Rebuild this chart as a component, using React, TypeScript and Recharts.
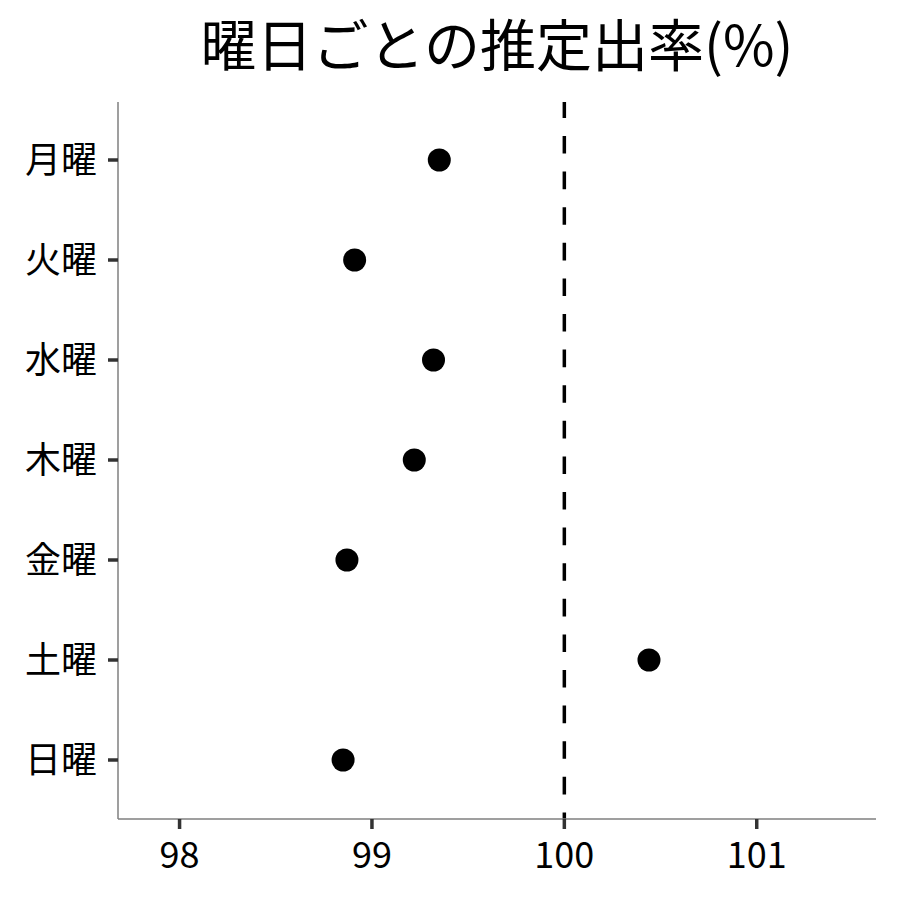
import React from "react";
import {
    ScatterChart,
    Scatter,
    XAxis,
    YAxis,
    ReferenceLine,
} from "recharts";

// 曜日ラベル (上から順)
const days = ["月曜", "火曜", "水曜", "木曜", "金曜", "土曜", "日曜"];
// 推定出率 (%)
const rates = [99.35, 98.91, 99.32, 99.22, 98.87, 100.44, 98.85];
const xTicks = [98, 99, 100, 101];
const yTicks = [0, 1, 2, 3, 4, 5, 6];

const FONT = '"Noto Sans CJK JP", "Noto Sans", sans-serif';

const Dot = (props: any) => {
    const { cx, cy } = props;
    return <circle cx={cx} cy={cy} r={11.5} fill="#000" />;
};

export default function App() {
    const data = days.map((d, i) => ({ idx: i, day: d, rate: rates[i] }));

    return (
        <div style={{ position: "absolute", left: 0, top: 0, width: 900, height: 900, background: "#fff", fontFamily: FONT }}>
            <svg width={900} height={100} style={{ position: "absolute", left: 0, top: 0 }}>
                <text x={497} y={65.5} textAnchor="middle" fontSize={56} fontFamily={FONT} fill="#000">
                    曜日ごとの推定出率(%)
                </text>
            </svg>
            <ScatterChart
                width={900}
                height={900}
                margin={{ top: 102, right: 24, bottom: 21, left: 18 }}
            >
                <XAxis
                    type="number"
                    dataKey="rate"
                    domain={[97.68, 101.62]}
                    ticks={xTicks}
                    allowDataOverflow
                    height={60}
                    tickSize={10}
                    tickMargin={13}
                    axisLine={{ stroke: "#7f7f7f", strokeWidth: 1.5 }}
                    tickLine={{ stroke: "#333", strokeWidth: 3.5 }}
                    tick={{ fill: "#000", fontSize: 36, fontFamily: FONT }}
                />
                <YAxis
                    type="number"
                    dataKey="idx"
                    domain={[-0.58, 6.59]}
                    ticks={yTicks}
                    reversed
                    allowDataOverflow
                    width={100}
                    tickSize={10}
                    tickMargin={11}
                    tickFormatter={(v: number) => days[v] ?? ""}
                    axisLine={{ stroke: "#7f7f7f", strokeWidth: 1.5 }}
                    tickLine={{ stroke: "#333", strokeWidth: 3.5 }}
                    tick={{ fill: "#000", fontSize: 36, fontFamily: FONT }}
                />
                <ReferenceLine
                    x={100}
                    stroke="#000"
                    strokeWidth={3.5}
                    strokeDasharray="17.6 18"
                    strokeDashoffset={11}
                />
                <Scatter data={data} shape={Dot} isAnimationActive={false} />
            </ScatterChart>
        </div>
    );
}
